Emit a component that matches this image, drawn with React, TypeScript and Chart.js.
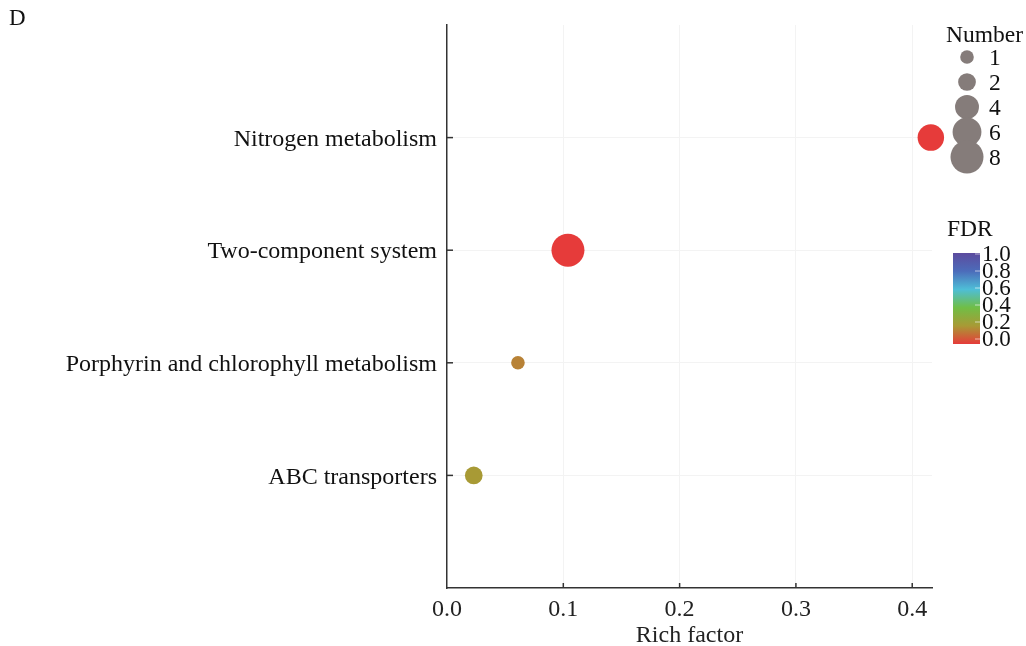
import React, { useEffect, useRef } from "react";
import { Chart, registerables } from "chart.js";

Chart.register(...registerables);

const categories = [
  "ABC transporters",
  "Porphyrin and chlorophyll metabolism",
  "Two-component system",
  "Nitrogen metabolism",
];
const richFactor = [0.023, 0.061, 0.104, 0.416];
const geneNumber = [2, 1, 8, 5];
const fdrValues = [0.2, 0.15, 0.0, 0.0];
const xTicks = [0, 0.1, 0.2, 0.3, 0.4];
const sizeLegend = [1, 2, 4, 6, 8];
const fdrLegendTicks = [1.0, 0.8, 0.6, 0.4, 0.2, 0.0];

const FONT = "'Liberation Serif', 'Times New Roman', serif";
const colorStops: [number, [number, number, number]][] = [
  [0.0, [230, 59, 58]],
  [0.2, [168, 154, 53]],
  [0.4, [112, 190, 70]],
  [0.6, [78, 190, 215]],
  [0.8, [76, 108, 186]],
  [1.0, [92, 75, 158]],
];

function fdrColor(v: number): string {
  for (let i = 0; i < colorStops.length - 1; i++) {
    const [a, ca] = colorStops[i];
    const [b, cb] = colorStops[i + 1];
    if (v >= a && v <= b) {
      const t = (v - a) / (b - a);
      const c = ca.map((x, k) => Math.round(x + (cb[k] - x) * t));
      return `rgb(${c[0]},${c[1]},${c[2]})`;
    }
  }
  const c = colorStops[colorStops.length - 1][1];
  return `rgb(${c[0]},${c[1]},${c[2]})`;
}

function sizeRadius(n: number): number {
  return Math.sqrt(13.9 + 32.3 * n);
}

const decorPlugin = {
  id: "decor",
  afterDraw(chart: any) {
    const ctx = chart.ctx;
    const x = chart.scales.x;
    const y = chart.scales.y;
    const area = chart.chartArea;
    ctx.save();
    // inward ticks
    ctx.strokeStyle = "#333";
    ctx.lineWidth = 1.5;
    xTicks.forEach((v) => {
      if (v === 0) return;
      const px = x.getPixelForValue(v);
      ctx.beginPath();
      ctx.moveTo(px, area.bottom);
      ctx.lineTo(px, area.bottom - 5);
      ctx.stroke();
    });
    categories.forEach((_, i) => {
      const py = y.getPixelForValue(i + 1);
      ctx.beginPath();
      ctx.moveTo(area.left, py);
      ctx.lineTo(area.left + 6, py);
      ctx.stroke();
    });

    // panel label
    ctx.fillStyle = "#111";
    ctx.font = `23px ${FONT}`;
    ctx.textAlign = "left";
    ctx.textBaseline = "middle";
    ctx.fillText("D", 9, 19);

    // size legend
    ctx.font = `23.5px ${FONT}`;
    ctx.fillStyle = "#111";
    ctx.fillText("Number", 946, 36);
    const ys = [57, 82, 107, 132, 157];
    sizeLegend.forEach((n, i) => {
      ctx.fillStyle = "#857c7a";
      ctx.beginPath();
      ctx.arc(967, ys[i], sizeRadius(n), 0, Math.PI * 2);
      ctx.fill();
    });
    ctx.fillStyle = "#111";
    sizeLegend.forEach((n, i) => {
      ctx.fillText(String(n), 989, ys[i] + 2);
    });

    // colour legend
    ctx.fillText("FDR", 947, 230);
    const top = 253;
    const bottom = 344;
    const grad = ctx.createLinearGradient(0, bottom, 0, top);
    colorStops.forEach(([s, c]) => grad.addColorStop(s, `rgb(${c[0]},${c[1]},${c[2]})`));
    ctx.fillStyle = grad;
    ctx.fillRect(953, top, 27, bottom - top);
    ctx.strokeStyle = "rgba(255,255,255,0.6)";
    ctx.lineWidth = 1;
    fdrLegendTicks.forEach((v) => {
      const py = 339 - v * 85;
      ctx.beginPath();
      ctx.moveTo(975, py);
      ctx.lineTo(980, py);
      ctx.stroke();
    });
    ctx.fillStyle = "#111";
    ctx.font = `23px ${FONT}`;
    fdrLegendTicks.forEach((v) => {
      ctx.fillText(v.toFixed(1), 982, 340 - v * 85);
    });
    ctx.restore();
  },
};

export default function App() {
  const ref = useRef<HTMLCanvasElement | null>(null);
  useEffect(() => {
    document.body.style.margin = "0";
    if (!ref.current) return;
    const chart = new Chart(ref.current, {
      type: "bubble",
      data: {
        datasets: [
          {
            data: categories.map((_, i) => ({
              x: richFactor[i],
              y: i + 1,
              r: sizeRadius(geneNumber[i]),
            })),
            backgroundColor: fdrValues.map((v) => fdrColor(v)),
            borderWidth: 0,
            hoverBorderWidth: 0,
            clip: false as any,
          },
        ],
      },
      options: {
        responsive: false,
        animation: false,
        devicePixelRatio: 1,
        layout: { padding: { top: 25, right: 94, left: 0, bottom: 0 } },
        plugins: { legend: { display: false }, tooltip: { enabled: false } },
        scales: {
          x: {
            type: "linear",
            min: 0,
            max: 0.417,
            afterFit: (s: any) => {
              s.height = 58;
            },
            border: { display: true, color: "#333", width: 1.5 },
            grid: {
              drawTicks: false,
              color: (c: any) => (c.tick && c.tick.value === 0 ? "rgba(0,0,0,0)" : "#f3f3f3"),
            },
            ticks: {
              stepSize: 0.1,
              includeBounds: false,
              padding: 7,
              color: "#222",
              font: { family: FONT, size: 24 },
              callback: (v: any) => Number(v).toFixed(1),
            },
            title: {
              display: true,
              text: "Rich factor",
              color: "#222",
              font: { family: FONT, size: 24, lineHeight: 1 },
              padding: { top: 0, bottom: -2 },
            },
          },
          y: {
            type: "linear",
            min: 0,
            max: 5,
            afterFit: (s: any) => {
              s.width = 447;
            },
            border: { display: true, color: "#333", width: 1.5 },
            grid: {
              drawTicks: false,
              color: (c: any) =>
                c.tick && c.tick.value >= 1 && c.tick.value <= categories.length
                  ? "#f3f3f3"
                  : "rgba(0,0,0,0)",
            },
            ticks: {
              stepSize: 1,
              padding: 10,
              labelOffset: 2,
              color: "#111",
              font: { family: FONT, size: 24 },
              callback: (v: any) => {
                const i = Number(v) - 1;
                return i >= 0 && i < categories.length ? categories[i] : "";
              },
            },
          },
        },
      },
      plugins: [decorPlugin],
    });
    return () => chart.destroy();
  }, []);
  return <canvas ref={ref} width={1026} height={646} style={{ display: "block" }} />;
}
